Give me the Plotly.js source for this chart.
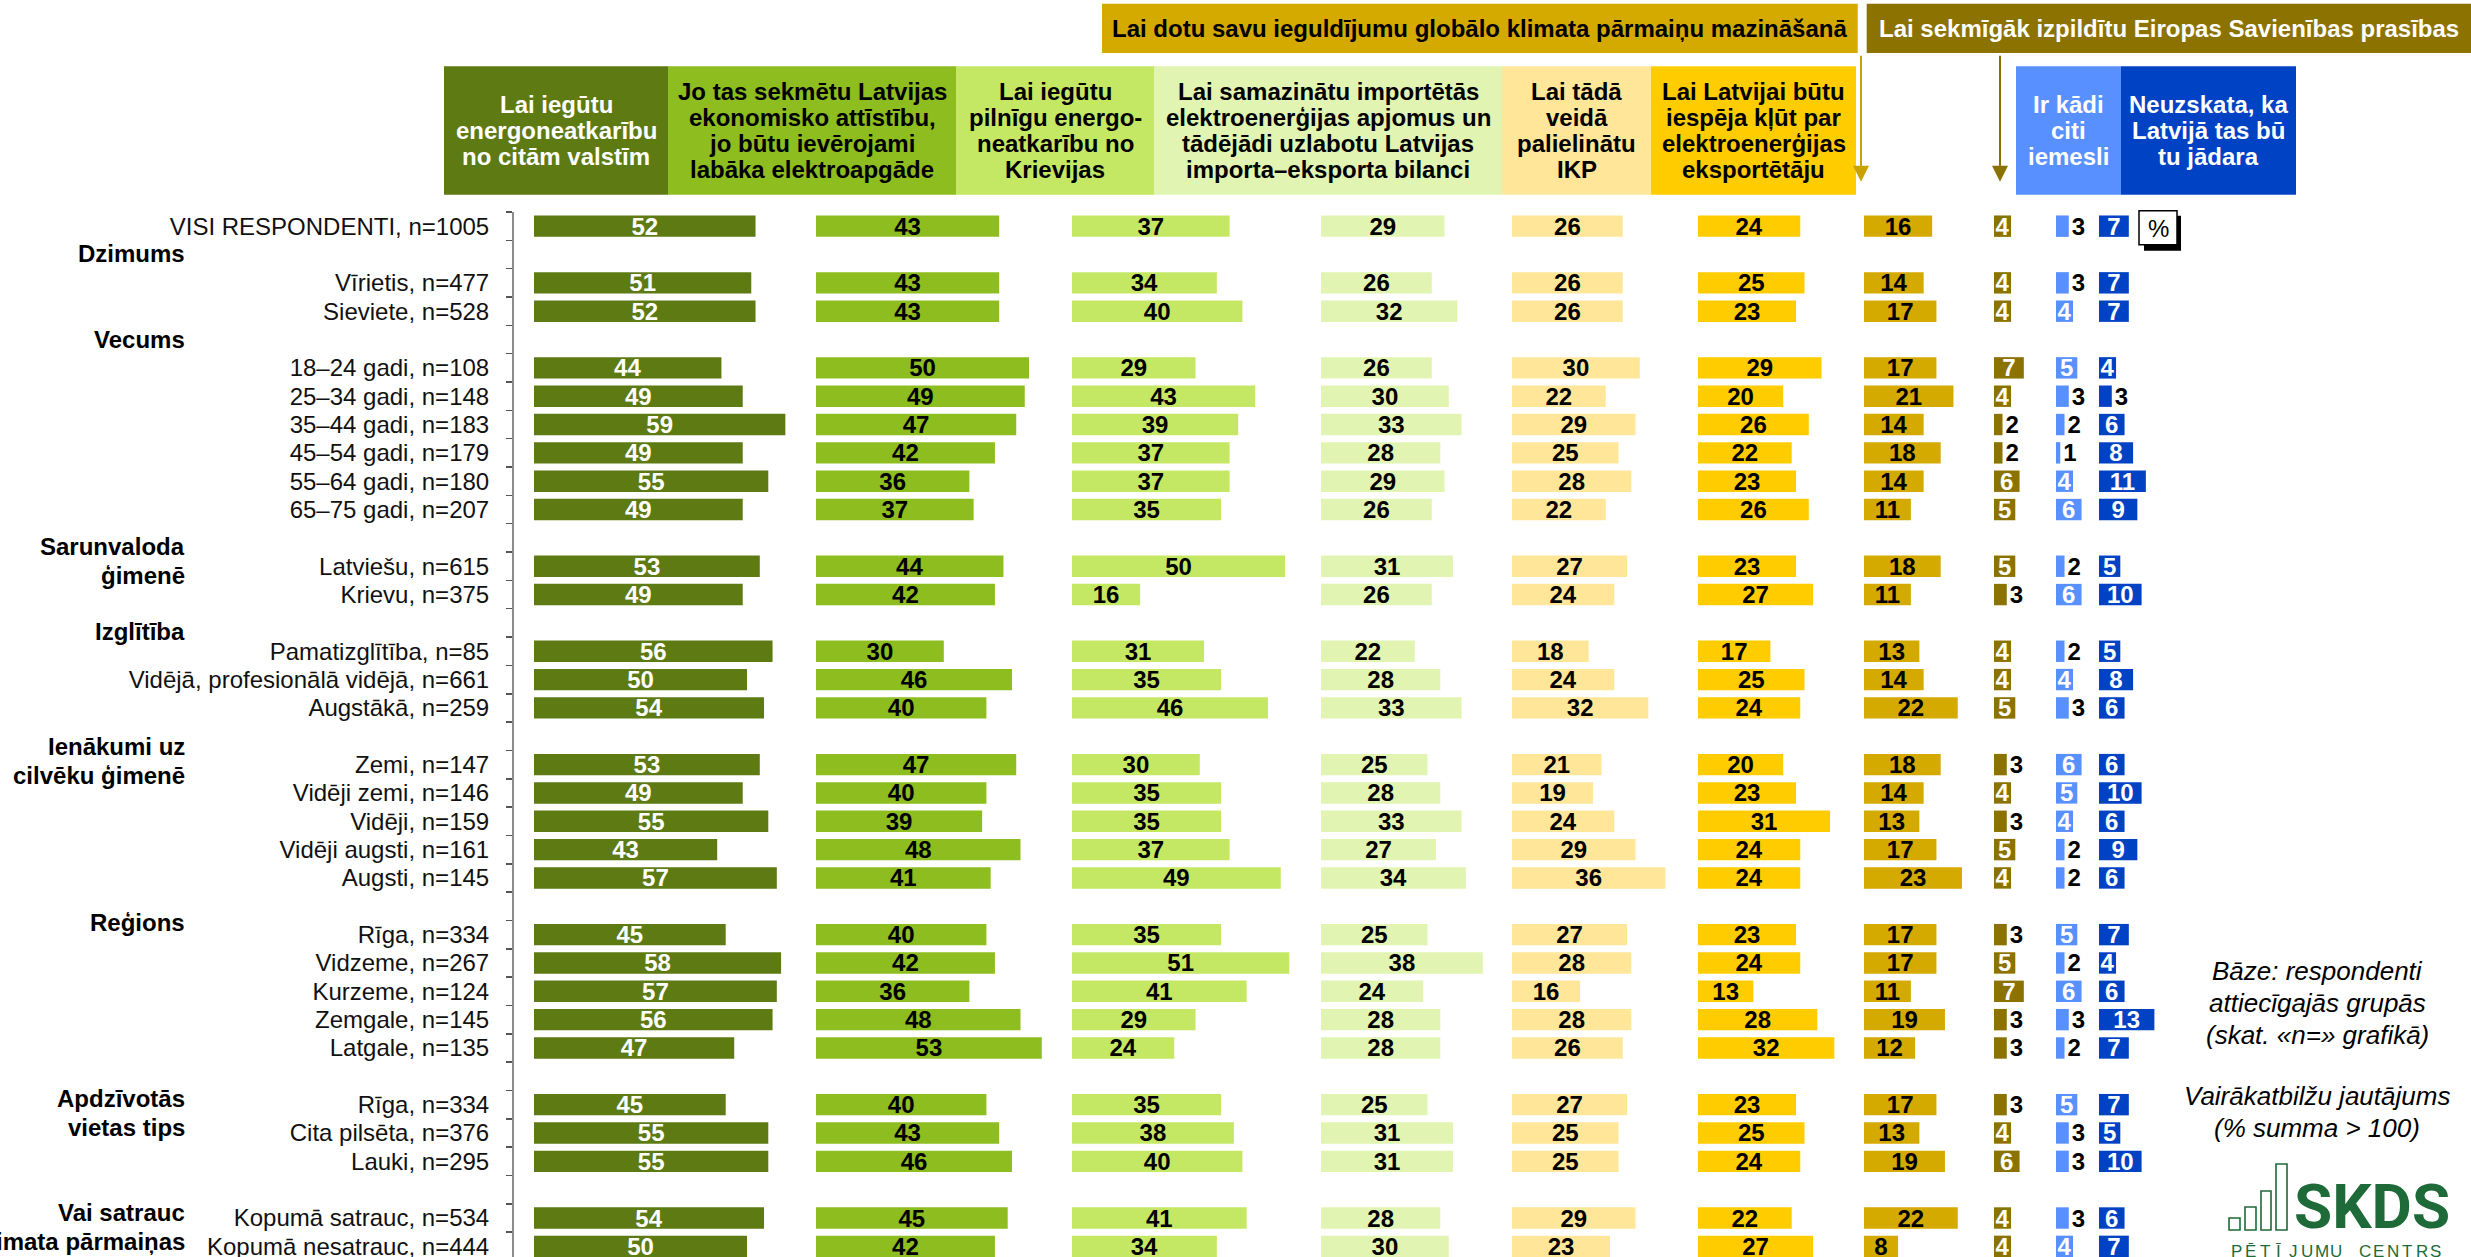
<!DOCTYPE html>
<html>
<head>
<meta charset="utf-8">
<script src="https://cdn.plot.ly/plotly-3.0.1.min.js"></script>
<style>
  html, body { margin: 0; padding: 0; background: #ffffff; }
  #chart { width: 2471px; height: 1257px; }
</style>
</head>
<body>
<div id="chart"></div>
<script>
// ---------------- DATA ----------------
const rowLabels = [
  'VISI RESPONDENTI, n=1005',
  'Vīrietis, n=477', 'Sieviete, n=528',
  '18–24 gadi, n=108', '25–34 gadi, n=148', '35–44 gadi, n=183', '45–54 gadi, n=179', '55–64 gadi, n=180', '65–75 gadi, n=207',
  'Latviešu, n=615', 'Krievu, n=375',
  'Pamatizglītība, n=85', 'Vidējā, profesionālā vidējā, n=661', 'Augstākā, n=259',
  'Zemi, n=147', 'Vidēji zemi, n=146', 'Vidēji, n=159', 'Vidēji augsti, n=161', 'Augsti, n=145',
  'Rīga, n=334', 'Vidzeme, n=267', 'Kurzeme, n=124', 'Zemgale, n=145', 'Latgale, n=135',
  'Rīga, n=334', 'Cita pilsēta, n=376', 'Lauki, n=295',
  'Kopumā satrauc, n=534', 'Kopumā nesatrauc, n=444'
];
// group index of each row (each new group starts after one empty row)
const rowGroup = [0, 1,1, 2,2,2,2,2,2, 3,3, 4,4,4, 5,5,5,5,5, 6,6,6,6,6, 7,7,7, 8,8];
const groupLabels = [
  [], ['Dzimums'], ['Vecums'], ['Sarunvaloda', 'ģimenē'], ['Izglītība'],
  ['Ienākumi uz', 'cilvēku ģimenē'], ['Reģions'], ['Apdzīvotās', 'vietas tips'], ['Vai satrauc', 'klimata pārmaiņas']
];

const answerHeaders = [
  ['Lai iegūtu', 'energoneatkarību', 'no citām valstīm'],
  ['Jo tas sekmētu Latvijas', 'ekonomisko attīstību,', 'jo būtu ievērojami', 'labāka elektroapgāde'],
  ['Lai iegūtu', 'pilnīgu energo-', 'neatkarību no', 'Krievijas'],
  ['Lai samazinātu importētās', 'elektroenerģijas apjomus un', 'tādējādi uzlabotu Latvijas', 'importa–eksporta bilanci'],
  ['Lai tādā', 'veidā', 'palielinātu', 'IKP'],
  ['Lai Latvijai būtu', 'iespēja kļūt par', 'elektroenerģijas', 'eksportētāju'],
  null,
  null,
  ['Ir kādi', 'citi', 'iemesli'],
  ['Neuzskata, ka', 'Latvijā tas bū', 'tu jādara']
];
const topHeaders = [
  'Lai dotu savu ieguldījumu globālo klimata pārmaiņu mazināšanā',
  'Lai sekmīgāk izpildītu Eiropas Savienības prasības'
];
const notes1 = ['Bāze: respondenti', 'attiecīgajās grupās', '(skat. «n=» grafikā)'];
const notes2 = ['Vairākatbilžu jautājums', '(% summa &gt; 100)'];
const logoName = 'SKDS';
const logoSub = 'PĒTĪJUMU CENTRS';

const energoneatkaribaCitas = [52,51,52,44,49,59,49,55,49,53,49,56,50,54,53,49,55,43,57,45,58,57,56,47,45,55,55,54,50];
const ekonomiskaAttistiba   = [43,43,43,50,49,47,42,36,37,44,42,30,46,40,47,40,39,48,41,40,42,36,48,53,40,43,46,45,42];
const neatkaribaKrievija    = [37,34,40,29,43,39,37,37,35,50,16,31,35,46,30,35,35,37,49,35,51,41,29,24,35,38,40,41,34];
const importaEksportaBil    = [29,26,32,26,30,33,28,29,26,31,26,22,28,33,25,28,33,27,34,25,38,24,28,28,25,31,31,28,30];
const palielinatIKP         = [26,26,26,30,22,29,25,28,22,27,24,18,24,32,21,19,24,29,36,27,28,16,28,26,27,25,25,29,23];
const eksportetElektro      = [24,25,23,29,20,26,22,23,26,23,27,17,25,24,20,23,31,24,24,23,24,13,28,32,23,25,24,22,27];
const klimataIeguldijums    = [16,14,17,17,21,14,18,14,11,18,11,13,14,22,18,14,13,17,23,17,17,11,19,12,17,13,19,22,8];
const esPrasibas            = [4,4,4,7,4,2,2,6,5,5,3,4,4,5,3,4,3,5,4,3,5,7,3,3,3,4,6,4,4];
const citiIemesli           = [3,3,4,5,3,2,1,4,6,2,6,2,4,3,6,5,4,2,2,5,2,6,3,2,5,3,3,3,4];
const neuzskataJadara       = [7,7,7,4,3,6,8,11,9,5,10,5,8,6,6,10,6,9,6,7,4,6,13,7,7,5,10,6,7];

const series = [energoneatkaribaCitas, ekonomiskaAttistiba, neatkaribaKrievija, importaEksportaBil,
  palielinatIKP, eksportetElektro, klimataIeguldijums, esPrasibas, citiIemesli, neuzskataJadara];

// ---------------- LAYOUT / STYLE ----------------
const W = 2471, H = 1257, TOP = 212.3;
const PXU = 4.26;                       // pixels per percentage point
const colStart = [534, 816, 1072, 1321, 1512, 1698, 1864, 1994, 2056, 2099];
const colColors = ['#5D7A13', '#8DBD1E', '#C5E864', '#E2F4B2', '#FFE699', '#FFCC00', '#D4A900', '#8C7200', '#5990FF', '#0042C4'];
const insideColor = ['#ffffff', '#000000', '#000000', '#000000', '#000000', '#000000', '#000000', '#ffffff', '#ffffff', '#ffffff'];
const headerBox = [[444,668],[668,956],[956,1154],[1154,1502],[1502,1651],[1651,1856],null,null,[2016,2121],[2121,2296]];
const headerText = ['#ffffff','#000000','#000000','#000000','#000000','#000000',null,null,'#ffffff','#ffffff'];
const FONT = 'Liberation Sans, Arial, sans-serif';
const GREEN = '#1E6A38';

const fx = p => p / W;
const fy = p => (H - p) / (H - TOP);

const slots = rowLabels.map((_, i) => i + rowGroup[i]);
const nSlots = slots[slots.length - 1];

const traces = [];
const layout = {
  width: W, height: H,
  margin: {l: 0, r: 0, t: TOP, b: 0, pad: 0},
  paper_bgcolor: '#ffffff', plot_bgcolor: 'rgba(0,0,0,0)',
  showlegend: false, bargap: 0.245,
  uniformtext: {mode: 'show', minsize: 24},
  font: {family: FONT, size: 24, color: '#000'},
  yaxis: {
    range: [nSlots + 0.376, -0.5],
    anchor: 'free', position: 512 / W, side: 'left',
    showline: true, linecolor: '#8c8c8c', linewidth: 1.5,
    tickmode: 'array', tickvals: slots, ticktext: rowLabels,
    ticks: '', ticklabelstandoff: 18, ticklabeloverflow: 'allow',
    tickfont: {family: FONT, size: 24, color: '#111'},
    showgrid: false, zeroline: false, fixedrange: true,
    minor: {tickmode: 'linear', tick0: -0.5, dtick: 1, ticks: 'outside', ticklen: 6, tickwidth: 1.5, tickcolor: '#555', showgrid: false}
  },
  shapes: [], annotations: []
};

series.forEach((vals, i) => {
  const axName = i === 0 ? 'xaxis' : 'xaxis' + (i + 1);
  const d0 = fx(colStart[i]);
  const d1 = Math.min(1, fx(colStart[i] + 300));
  layout[axName] = {
    domain: [d0, d1], range: [0, (d1 - d0) * W / PXU], anchor: 'y',
    visible: false, showgrid: false, zeroline: false, fixedrange: true
  };
  traces.push({
    type: 'bar', orientation: 'h',
    x: vals, y: slots,
    xaxis: i === 0 ? 'x' : 'x' + (i + 1), yaxis: 'y',
    marker: {color: colColors[i], line: {width: 0}},
    text: vals.map(String),
    textposition: vals.map(v => v <= 3 ? 'outside' : 'inside'),
    insidetextanchor: 'middle', textangle: 0, constraintext: 'none', cliponaxis: false,
    insidetextfont: {family: FONT, size: 24, weight: 'bold', color: insideColor[i]},
    outsidetextfont: {family: FONT, size: 24, weight: 'bold', color: '#000'},
    hoverinfo: 'skip'
  });
});

// group labels (left, bold)
const groupLabelSlot = [null, 0.95, 4.0, 11.3, 14.3, 18.36, 24.57, 30.77, 34.8];
groupLabels.forEach((lines, g) => {
  lines.forEach((t, k) => {
    layout.annotations.push({
      xref: 'paper', yref: 'y', x: fx(187), y: groupLabelSlot[g] + k * 1.03,
      xanchor: 'right', yanchor: 'middle', showarrow: false, text: t,
      font: {family: FONT, size: 24, weight: 'bold', color: '#000'}
    });
  });
});

// column header boxes
answerHeaders.forEach((lines, i) => {
  if (!lines) return;
  const [x0, x1] = headerBox[i];
  layout.shapes.push({type: 'rect', xref: 'paper', yref: 'paper', x0: fx(x0), x1: fx(x1), y0: fy(195), y1: fy(66.7),
    fillcolor: colColors[i], line: {width: 0}, layer: 'below'});
  const c = 130.8, step = 25.7, n = lines.length;
  lines.forEach((t, k) => {
    layout.annotations.push({
      xref: 'paper', yref: 'paper', x: fx((x0 + x1) / 2), y: fy(c + (k - (n - 1) / 2) * step),
      xanchor: 'center', yanchor: 'middle', showarrow: false, text: t,
      font: {family: FONT, size: 24, weight: 'bold', color: headerText[i]}
    });
  });
});

// top headers with arrows
const topBox = [[1102, 1857.7], [1866.7, 2471]];
const topFill = ['#D4A900', '#8C7200'];
const topFont = ['#000000', '#ffffff'];
const arrowX = [1861, 2000];
const arrowColor = ['#C9A200', '#8C7200'];
topHeaders.forEach((t, i) => {
  const [x0, x1] = topBox[i];
  layout.shapes.push({type: 'rect', xref: 'paper', yref: 'paper', x0: fx(x0), x1: fx(x1), y0: fy(53.3), y1: fy(4),
    fillcolor: topFill[i], line: {width: 0}, layer: 'below'});
  layout.annotations.push({
    xref: 'paper', yref: 'paper', x: fx((x0 + x1) / 2), y: fy(29), xanchor: 'center', yanchor: 'middle',
    showarrow: false, text: t, font: {family: FONT, size: 24, weight: 'bold', color: topFont[i]}
  });
  layout.annotations.push({
    xref: 'paper', yref: 'paper', x: fx(arrowX[i]), y: fy(182), text: ' ', font: {size: 1},
    showarrow: true, axref: 'pixel', ayref: 'pixel', ax: 0, ay: -128,
    arrowhead: 2, arrowsize: 1.6, arrowwidth: 2, arrowcolor: arrowColor[i], standoff: 0
  });
});

// % box
layout.shapes.push({type: 'rect', xref: 'paper', yref: 'paper', x0: fx(2144), x1: fx(2181), y0: fy(251), y1: fy(216),
  fillcolor: '#000', line: {width: 0}});
layout.shapes.push({type: 'rect', xref: 'paper', yref: 'paper', x0: fx(2139), x1: fx(2177), y0: fy(245), y1: fy(211),
  fillcolor: '#fff', line: {width: 1.5, color: '#000'}});
layout.annotations.push({xref: 'paper', yref: 'paper', x: fx(2158), y: fy(228.5), showarrow: false, text: '%',
  xanchor: 'center', yanchor: 'middle', font: {family: FONT, size: 24, color: '#000'}});

// notes
const notesY1 = [971, 1003, 1035], notesY2 = [1096.5, 1128];
notes1.forEach((t, k) => layout.annotations.push({xref: 'paper', yref: 'paper', x: fx(2317), y: fy(notesY1[k]),
  showarrow: false, text: t, xanchor: 'center', yanchor: 'middle', font: {family: FONT, size: 26, style: 'italic', color: '#000'}}));
notes2.forEach((t, k) => layout.annotations.push({xref: 'paper', yref: 'paper', x: fx(2317), y: fy(notesY2[k]),
  showarrow: false, text: t, xanchor: 'center', yanchor: 'middle', font: {family: FONT, size: 26, style: 'italic', color: '#000'}}));

// SKDS logo
const logoBars = [[2229, 1218, 2240, 1230], [2245, 1207, 2256, 1230], [2261, 1191, 2271, 1230], [2276, 1164, 2287, 1230]];
logoBars.forEach(b => layout.shapes.push({type: 'rect', xref: 'paper', yref: 'paper', x0: fx(b[0]), x1: fx(b[2]), y0: fy(b[3]), y1: fy(b[1]),
  fillcolor: 'rgba(0,0,0,0)', line: {width: 1.6, color: GREEN}}));
layout.annotations.push({xref: 'paper', yref: 'paper', x: fx(2292), y: fy(1207), showarrow: false, text: logoName,
  xanchor: 'left', yanchor: 'middle', font: {family: 'Roboto, Liberation Sans, sans-serif', size: 62, weight: 'bold', color: GREEN}});
// spaced-out subtitle: one letter per slot across the logo width
const subChars = Array.from(logoSub);
const subX0 = 2229, subX1 = 2443, subStep = (subX1 - subX0) / subChars.length;
subChars.forEach((ch, k) => {
  if (ch === ' ') return;
  layout.annotations.push({xref: 'paper', yref: 'paper', x: fx(subX0 + subStep * (k + 0.5)), y: fy(1251.5), showarrow: false,
    text: ch, xanchor: 'center', yanchor: 'middle', font: {family: FONT, size: 17, color: GREEN}});
});

Plotly.newPlot('chart', traces, layout, {staticPlot: true, displayModeBar: false});
</script>
</body>
</html>
